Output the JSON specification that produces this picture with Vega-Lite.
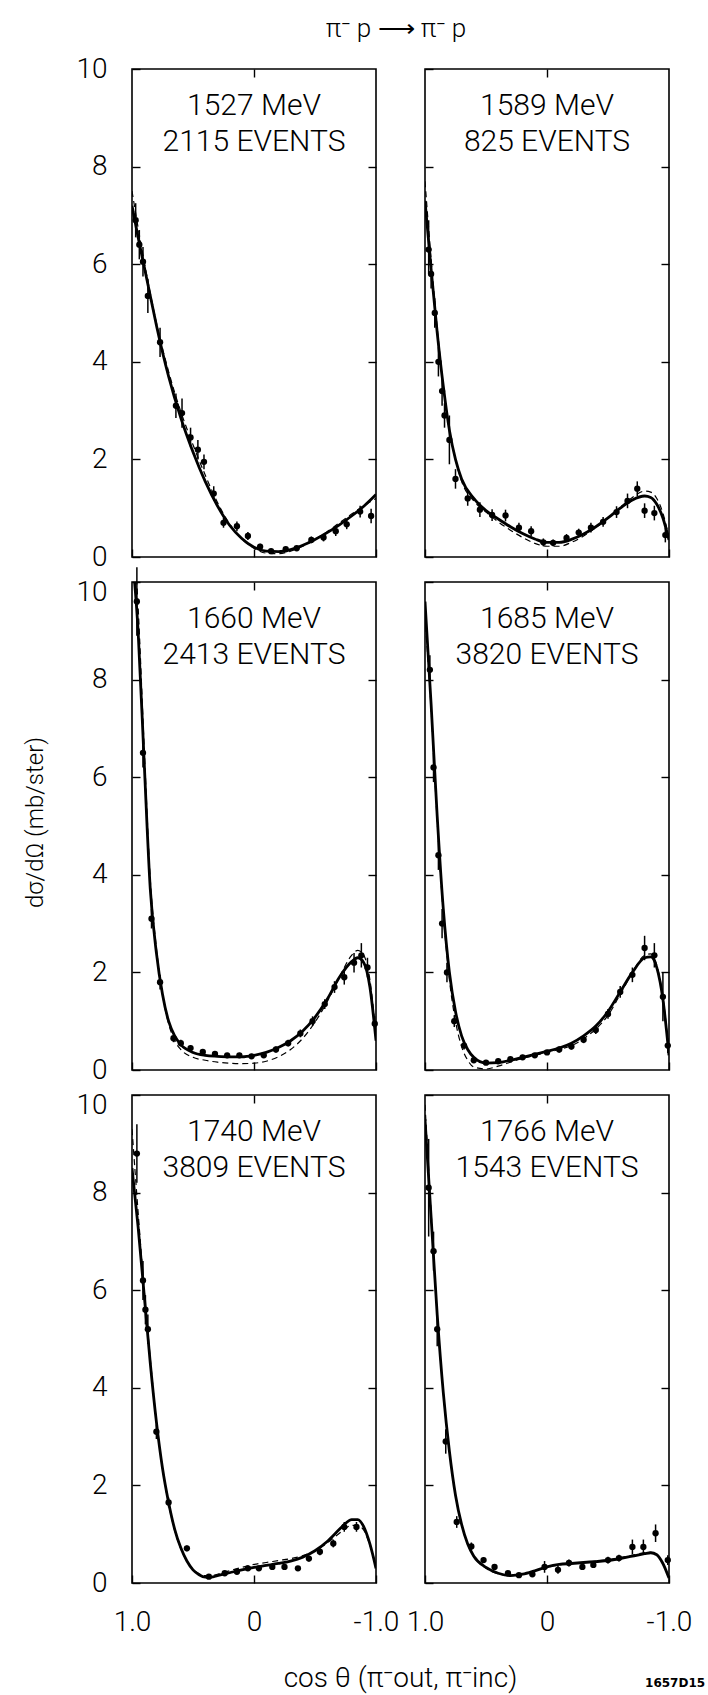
{
"$schema": "https://vega.github.io/schema/vega-lite/v6.json",
"background": "white",
"padding": {"left": 22, "top": 16, "right": 10, "bottom": 5},
"title": {"text": "π⁻ p ⟶ π⁻ p", "fontSize": 26, "fontWeight": 300, "font": "Roboto", "color": "black", "anchor": "middle", "frame": "group", "baseline": "alphabetic", "offset": -9, "dx": 264},
"config": {
  "view": {"stroke": "black", "strokeWidth": 1.6},
  "font": "Roboto",
  "axis": {"domain": false, "grid": false, "ticks": true, "tickSize": -8, "tickColor": "black", "tickWidth": 1.4, "labelFont": "Roboto", "labelFontSize": 28, "labelFontWeight": 300, "labelColor": "black", "labelPadding": 33, "labelFlush": false, "labelOverlap": false, "titleColor": "black", "titleFont": "Roboto", "titleFontWeight": 300}
},
"datasets": {"d": [
{"panel":"p1","kind":"label","text":["1527 MeV","2115 EVENTS"]},
{"panel":"p2","kind":"label","text":["1589 MeV","825 EVENTS"]},
{"panel":"p3","kind":"label","text":["1660 MeV","2413 EVENTS"]},
{"panel":"p4","kind":"label","text":["1685 MeV","3820 EVENTS"]},
{"panel":"p5","kind":"label","text":["1740 MeV","3809 EVENTS"]},
{"panel":"p6","kind":"label","text":["1766 MeV","1543 EVENTS"]},
{"panel":"p6","kind":"code","text":"1657D15"},

{"panel":"p1","kind":"pt","cos":0.97,"val":6.9,"lo":6.55,"hi":7.25},
{"panel":"p1","kind":"pt","cos":0.94,"val":6.4,"lo":6.1,"hi":6.7},
{"panel":"p1","kind":"pt","cos":0.91,"val":6.05,"lo":5.75,"hi":6.35},
{"panel":"p1","kind":"pt","cos":0.87,"val":5.35,"lo":5.0,"hi":5.7},
{"panel":"p1","kind":"pt","cos":0.77,"val":4.4,"lo":4.1,"hi":4.7},
{"panel":"p1","kind":"pt","cos":0.64,"val":3.1,"lo":2.85,"hi":3.35},
{"panel":"p1","kind":"pt","cos":0.59,"val":2.95,"lo":2.65,"hi":3.25},
{"panel":"p1","kind":"pt","cos":0.52,"val":2.45,"lo":2.25,"hi":2.65},
{"panel":"p1","kind":"pt","cos":0.46,"val":2.2,"lo":2.0,"hi":2.4},
{"panel":"p1","kind":"pt","cos":0.41,"val":1.95,"lo":1.8,"hi":2.1},
{"panel":"p1","kind":"pt","cos":0.33,"val":1.3,"lo":1.15,"hi":1.45},
{"panel":"p1","kind":"pt","cos":0.25,"val":0.7,"lo":0.6,"hi":0.8},
{"panel":"p1","kind":"pt","cos":0.14,"val":0.63,"lo":0.53,"hi":0.73},
{"panel":"p1","kind":"pt","cos":0.05,"val":0.43,"lo":0.35,"hi":0.51},
{"panel":"p1","kind":"pt","cos":-0.05,"val":0.21,"lo":0.15,"hi":0.27},
{"panel":"p1","kind":"pt","cos":-0.14,"val":0.12,"lo":0.07,"hi":0.17},
{"panel":"p1","kind":"pt","cos":-0.26,"val":0.16,"lo":0.11,"hi":0.21},
{"panel":"p1","kind":"pt","cos":-0.35,"val":0.18,"lo":0.13,"hi":0.23},
{"panel":"p1","kind":"pt","cos":-0.47,"val":0.35,"lo":0.28,"hi":0.42},
{"panel":"p1","kind":"pt","cos":-0.57,"val":0.4,"lo":0.32,"hi":0.48},
{"panel":"p1","kind":"pt","cos":-0.67,"val":0.53,"lo":0.43,"hi":0.63},
{"panel":"p1","kind":"pt","cos":-0.76,"val":0.67,"lo":0.57,"hi":0.77},
{"panel":"p1","kind":"pt","cos":-0.87,"val":0.93,"lo":0.81,"hi":1.05},
{"panel":"p1","kind":"pt","cos":-0.96,"val":0.84,"lo":0.69,"hi":0.99},
{"panel":"p1","kind":"solid","cos":1,"val":7.2},{"panel":"p1","kind":"solid","cos":0.95,"val":6.55},{"panel":"p1","kind":"solid","cos":0.9,"val":5.95},{"panel":"p1","kind":"solid","cos":0.85,"val":5.35},{"panel":"p1","kind":"solid","cos":0.8,"val":4.75},{"panel":"p1","kind":"solid","cos":0.7,"val":3.7},{"panel":"p1","kind":"solid","cos":0.6,"val":2.85},{"panel":"p1","kind":"solid","cos":0.5,"val":2.15},{"panel":"p1","kind":"solid","cos":0.4,"val":1.55},{"panel":"p1","kind":"solid","cos":0.3,"val":1.05},{"panel":"p1","kind":"solid","cos":0.2,"val":0.65},{"panel":"p1","kind":"solid","cos":0.1,"val":0.38},{"panel":"p1","kind":"solid","cos":0,"val":0.2},{"panel":"p1","kind":"solid","cos":-0.1,"val":0.12},{"panel":"p1","kind":"solid","cos":-0.2,"val":0.11},{"panel":"p1","kind":"solid","cos":-0.3,"val":0.15},{"panel":"p1","kind":"solid","cos":-0.4,"val":0.24},{"panel":"p1","kind":"solid","cos":-0.5,"val":0.36},{"panel":"p1","kind":"solid","cos":-0.6,"val":0.5},{"panel":"p1","kind":"solid","cos":-0.7,"val":0.66},{"panel":"p1","kind":"solid","cos":-0.8,"val":0.84},{"panel":"p1","kind":"solid","cos":-0.9,"val":1.04},{"panel":"p1","kind":"solid","cos":-1,"val":1.28},
{"panel":"p1","kind":"dashed","cos":1,"val":7.5},{"panel":"p1","kind":"dashed","cos":0.95,"val":6.75},{"panel":"p1","kind":"dashed","cos":0.9,"val":6.05},{"panel":"p1","kind":"dashed","cos":0.85,"val":5.4},{"panel":"p1","kind":"dashed","cos":0.8,"val":4.8},{"panel":"p1","kind":"dashed","cos":0.7,"val":3.8},{"panel":"p1","kind":"dashed","cos":0.6,"val":2.98},{"panel":"p1","kind":"dashed","cos":0.5,"val":2.3},{"panel":"p1","kind":"dashed","cos":0.4,"val":1.68},{"panel":"p1","kind":"dashed","cos":0.3,"val":1.12},{"panel":"p1","kind":"dashed","cos":0.2,"val":0.68},{"panel":"p1","kind":"dashed","cos":0.1,"val":0.37},{"panel":"p1","kind":"dashed","cos":0,"val":0.18},{"panel":"p1","kind":"dashed","cos":-0.1,"val":0.08},{"panel":"p1","kind":"dashed","cos":-0.2,"val":0.07},{"panel":"p1","kind":"dashed","cos":-0.3,"val":0.12},{"panel":"p1","kind":"dashed","cos":-0.4,"val":0.22},{"panel":"p1","kind":"dashed","cos":-0.5,"val":0.36},{"panel":"p1","kind":"dashed","cos":-0.6,"val":0.52},{"panel":"p1","kind":"dashed","cos":-0.7,"val":0.7},{"panel":"p1","kind":"dashed","cos":-0.8,"val":0.88},{"panel":"p1","kind":"dashed","cos":-0.9,"val":1.05},{"panel":"p1","kind":"dashed","cos":-1,"val":1.2},

{"panel":"p2","kind":"pt","cos":0.97,"val":6.3,"lo":5.8,"hi":6.9},
{"panel":"p2","kind":"pt","cos":0.95,"val":5.8,"lo":5.5,"hi":6.1},
{"panel":"p2","kind":"pt","cos":0.92,"val":5.0,"lo":4.7,"hi":5.3},
{"panel":"p2","kind":"pt","cos":0.89,"val":4.0,"lo":3.7,"hi":4.3},
{"panel":"p2","kind":"pt","cos":0.86,"val":3.4,"lo":3.1,"hi":3.7},
{"panel":"p2","kind":"pt","cos":0.84,"val":2.9,"lo":2.65,"hi":3.15},
{"panel":"p2","kind":"pt","cos":0.8,"val":2.4,"lo":1.9,"hi":2.9},
{"panel":"p2","kind":"pt","cos":0.75,"val":1.6,"lo":1.4,"hi":1.8},
{"panel":"p2","kind":"pt","cos":0.65,"val":1.2,"lo":1.05,"hi":1.35},
{"panel":"p2","kind":"pt","cos":0.55,"val":0.97,"lo":0.82,"hi":1.12},
{"panel":"p2","kind":"pt","cos":0.45,"val":0.86,"lo":0.74,"hi":0.98},
{"panel":"p2","kind":"pt","cos":0.34,"val":0.85,"lo":0.73,"hi":0.97},
{"panel":"p2","kind":"pt","cos":0.23,"val":0.6,"lo":0.5,"hi":0.7},
{"panel":"p2","kind":"pt","cos":0.13,"val":0.53,"lo":0.43,"hi":0.63},
{"panel":"p2","kind":"pt","cos":0.03,"val":0.3,"lo":0.22,"hi":0.38},
{"panel":"p2","kind":"pt","cos":-0.05,"val":0.29,"lo":0.22,"hi":0.36},
{"panel":"p2","kind":"pt","cos":-0.16,"val":0.39,"lo":0.31,"hi":0.47},
{"panel":"p2","kind":"pt","cos":-0.26,"val":0.5,"lo":0.42,"hi":0.58},
{"panel":"p2","kind":"pt","cos":-0.36,"val":0.6,"lo":0.5,"hi":0.7},
{"panel":"p2","kind":"pt","cos":-0.46,"val":0.72,"lo":0.62,"hi":0.82},
{"panel":"p2","kind":"pt","cos":-0.57,"val":0.92,"lo":0.8,"hi":1.04},
{"panel":"p2","kind":"pt","cos":-0.66,"val":1.15,"lo":1.0,"hi":1.3},
{"panel":"p2","kind":"pt","cos":-0.74,"val":1.4,"lo":1.25,"hi":1.55},
{"panel":"p2","kind":"pt","cos":-0.8,"val":0.95,"lo":0.8,"hi":1.1},
{"panel":"p2","kind":"pt","cos":-0.88,"val":0.9,"lo":0.75,"hi":1.05},
{"panel":"p2","kind":"pt","cos":-0.97,"val":0.45,"lo":0.3,"hi":0.6},
{"panel":"p2","kind":"solid","cos":1,"val":7.3},{"panel":"p2","kind":"solid","cos":0.95,"val":5.9},{"panel":"p2","kind":"solid","cos":0.9,"val":4.6},{"panel":"p2","kind":"solid","cos":0.85,"val":3.5},{"panel":"p2","kind":"solid","cos":0.8,"val":2.6},{"panel":"p2","kind":"solid","cos":0.75,"val":2.0},{"panel":"p2","kind":"solid","cos":0.7,"val":1.6},{"panel":"p2","kind":"solid","cos":0.6,"val":1.2},{"panel":"p2","kind":"solid","cos":0.5,"val":0.95},{"panel":"p2","kind":"solid","cos":0.4,"val":0.78},{"panel":"p2","kind":"solid","cos":0.3,"val":0.62},{"panel":"p2","kind":"solid","cos":0.2,"val":0.48},{"panel":"p2","kind":"solid","cos":0.1,"val":0.37},{"panel":"p2","kind":"solid","cos":0,"val":0.3},{"panel":"p2","kind":"solid","cos":-0.1,"val":0.3},{"panel":"p2","kind":"solid","cos":-0.2,"val":0.36},{"panel":"p2","kind":"solid","cos":-0.3,"val":0.47},{"panel":"p2","kind":"solid","cos":-0.4,"val":0.62},{"panel":"p2","kind":"solid","cos":-0.5,"val":0.8},{"panel":"p2","kind":"solid","cos":-0.6,"val":1.0},{"panel":"p2","kind":"solid","cos":-0.7,"val":1.17},{"panel":"p2","kind":"solid","cos":-0.8,"val":1.25},{"panel":"p2","kind":"solid","cos":-0.85,"val":1.22},{"panel":"p2","kind":"solid","cos":-0.9,"val":1.08},{"panel":"p2","kind":"solid","cos":-0.95,"val":0.8},{"panel":"p2","kind":"solid","cos":-1,"val":0.35},
{"panel":"p2","kind":"dashed","cos":1,"val":7.7},{"panel":"p2","kind":"dashed","cos":0.95,"val":6.1},{"panel":"p2","kind":"dashed","cos":0.9,"val":4.7},{"panel":"p2","kind":"dashed","cos":0.85,"val":3.5},{"panel":"p2","kind":"dashed","cos":0.8,"val":2.6},{"panel":"p2","kind":"dashed","cos":0.75,"val":2.0},{"panel":"p2","kind":"dashed","cos":0.7,"val":1.55},{"panel":"p2","kind":"dashed","cos":0.6,"val":1.15},{"panel":"p2","kind":"dashed","cos":0.5,"val":0.92},{"panel":"p2","kind":"dashed","cos":0.4,"val":0.72},{"panel":"p2","kind":"dashed","cos":0.3,"val":0.55},{"panel":"p2","kind":"dashed","cos":0.2,"val":0.4},{"panel":"p2","kind":"dashed","cos":0.1,"val":0.28},{"panel":"p2","kind":"dashed","cos":0,"val":0.22},{"panel":"p2","kind":"dashed","cos":-0.1,"val":0.22},{"panel":"p2","kind":"dashed","cos":-0.2,"val":0.3},{"panel":"p2","kind":"dashed","cos":-0.3,"val":0.43},{"panel":"p2","kind":"dashed","cos":-0.4,"val":0.6},{"panel":"p2","kind":"dashed","cos":-0.5,"val":0.8},{"panel":"p2","kind":"dashed","cos":-0.6,"val":1.02},{"panel":"p2","kind":"dashed","cos":-0.7,"val":1.22},{"panel":"p2","kind":"dashed","cos":-0.8,"val":1.35},{"panel":"p2","kind":"dashed","cos":-0.85,"val":1.33},{"panel":"p2","kind":"dashed","cos":-0.9,"val":1.2},{"panel":"p2","kind":"dashed","cos":-0.95,"val":0.9},{"panel":"p2","kind":"dashed","cos":-1,"val":0.4},

{"panel":"p3","kind":"pt","cos":0.96,"val":9.6,"lo":8.9,"hi":10.3},
{"panel":"p3","kind":"pt","cos":0.91,"val":6.5,"lo":6.2,"hi":6.8},
{"panel":"p3","kind":"pt","cos":0.84,"val":3.1,"lo":2.9,"hi":3.3},
{"panel":"p3","kind":"pt","cos":0.77,"val":1.8,"lo":1.65,"hi":1.95},
{"panel":"p3","kind":"pt","cos":0.66,"val":0.65,"lo":0.57,"hi":0.73},
{"panel":"p3","kind":"pt","cos":0.6,"val":0.55,"lo":0.48,"hi":0.62},
{"panel":"p3","kind":"pt","cos":0.52,"val":0.45,"lo":0.39,"hi":0.51},
{"panel":"p3","kind":"pt","cos":0.42,"val":0.37,"lo":0.32,"hi":0.42},
{"panel":"p3","kind":"pt","cos":0.32,"val":0.33,"lo":0.28,"hi":0.38},
{"panel":"p3","kind":"pt","cos":0.22,"val":0.3,"lo":0.25,"hi":0.35},
{"panel":"p3","kind":"pt","cos":0.12,"val":0.3,"lo":0.25,"hi":0.35},
{"panel":"p3","kind":"pt","cos":0.02,"val":0.28,"lo":0.23,"hi":0.33},
{"panel":"p3","kind":"pt","cos":-0.08,"val":0.3,"lo":0.25,"hi":0.35},
{"panel":"p3","kind":"pt","cos":-0.18,"val":0.42,"lo":0.36,"hi":0.48},
{"panel":"p3","kind":"pt","cos":-0.28,"val":0.55,"lo":0.48,"hi":0.62},
{"panel":"p3","kind":"pt","cos":-0.38,"val":0.75,"lo":0.67,"hi":0.83},
{"panel":"p3","kind":"pt","cos":-0.48,"val":1.0,"lo":0.9,"hi":1.1},
{"panel":"p3","kind":"pt","cos":-0.58,"val":1.35,"lo":1.25,"hi":1.45},
{"panel":"p3","kind":"pt","cos":-0.66,"val":1.7,"lo":1.58,"hi":1.82},
{"panel":"p3","kind":"pt","cos":-0.74,"val":1.9,"lo":1.75,"hi":2.05},
{"panel":"p3","kind":"pt","cos":-0.82,"val":2.2,"lo":2.0,"hi":2.4},
{"panel":"p3","kind":"pt","cos":-0.88,"val":2.35,"lo":2.1,"hi":2.6},
{"panel":"p3","kind":"pt","cos":-0.93,"val":2.1,"lo":1.9,"hi":2.3},
{"panel":"p3","kind":"pt","cos":-0.99,"val":0.95,"lo":0.8,"hi":1.1},
{"panel":"p3","kind":"solid","cos":1,"val":10.6},{"panel":"p3","kind":"solid","cos":0.95,"val":9.0},{"panel":"p3","kind":"solid","cos":0.9,"val":6.3},{"panel":"p3","kind":"solid","cos":0.85,"val":3.7},{"panel":"p3","kind":"solid","cos":0.8,"val":2.4},{"panel":"p3","kind":"solid","cos":0.75,"val":1.55},{"panel":"p3","kind":"solid","cos":0.7,"val":1.0},{"panel":"p3","kind":"solid","cos":0.65,"val":0.7},{"panel":"p3","kind":"solid","cos":0.6,"val":0.52},{"panel":"p3","kind":"solid","cos":0.5,"val":0.36},{"panel":"p3","kind":"solid","cos":0.4,"val":0.3},{"panel":"p3","kind":"solid","cos":0.3,"val":0.28},{"panel":"p3","kind":"solid","cos":0.2,"val":0.27},{"panel":"p3","kind":"solid","cos":0.1,"val":0.27},{"panel":"p3","kind":"solid","cos":0,"val":0.3},{"panel":"p3","kind":"solid","cos":-0.1,"val":0.36},{"panel":"p3","kind":"solid","cos":-0.2,"val":0.46},{"panel":"p3","kind":"solid","cos":-0.3,"val":0.6},{"panel":"p3","kind":"solid","cos":-0.4,"val":0.8},{"panel":"p3","kind":"solid","cos":-0.5,"val":1.08},{"panel":"p3","kind":"solid","cos":-0.6,"val":1.45},{"panel":"p3","kind":"solid","cos":-0.7,"val":1.9},{"panel":"p3","kind":"solid","cos":-0.8,"val":2.22},{"panel":"p3","kind":"solid","cos":-0.85,"val":2.3},{"panel":"p3","kind":"solid","cos":-0.9,"val":2.2},{"panel":"p3","kind":"solid","cos":-0.95,"val":1.7},{"panel":"p3","kind":"solid","cos":-1,"val":0.6},
{"panel":"p3","kind":"dashed","cos":1,"val":11.5},{"panel":"p3","kind":"dashed","cos":0.95,"val":9.5},{"panel":"p3","kind":"dashed","cos":0.9,"val":6.6},{"panel":"p3","kind":"dashed","cos":0.85,"val":3.9},{"panel":"p3","kind":"dashed","cos":0.8,"val":2.5},{"panel":"p3","kind":"dashed","cos":0.75,"val":1.55},{"panel":"p3","kind":"dashed","cos":0.7,"val":0.95},{"panel":"p3","kind":"dashed","cos":0.65,"val":0.6},{"panel":"p3","kind":"dashed","cos":0.6,"val":0.42},{"panel":"p3","kind":"dashed","cos":0.5,"val":0.26},{"panel":"p3","kind":"dashed","cos":0.4,"val":0.2},{"panel":"p3","kind":"dashed","cos":0.3,"val":0.16},{"panel":"p3","kind":"dashed","cos":0.2,"val":0.14},{"panel":"p3","kind":"dashed","cos":0.1,"val":0.13},{"panel":"p3","kind":"dashed","cos":0,"val":0.14},{"panel":"p3","kind":"dashed","cos":-0.1,"val":0.18},{"panel":"p3","kind":"dashed","cos":-0.2,"val":0.27},{"panel":"p3","kind":"dashed","cos":-0.3,"val":0.42},{"panel":"p3","kind":"dashed","cos":-0.4,"val":0.65},{"panel":"p3","kind":"dashed","cos":-0.5,"val":0.98},{"panel":"p3","kind":"dashed","cos":-0.6,"val":1.4},{"panel":"p3","kind":"dashed","cos":-0.7,"val":1.9},{"panel":"p3","kind":"dashed","cos":-0.8,"val":2.35},{"panel":"p3","kind":"dashed","cos":-0.85,"val":2.45},{"panel":"p3","kind":"dashed","cos":-0.9,"val":2.35},{"panel":"p3","kind":"dashed","cos":-0.95,"val":1.85},{"panel":"p3","kind":"dashed","cos":-1,"val":0.7},

{"panel":"p4","kind":"pt","cos":0.96,"val":8.2,"lo":7.9,"hi":8.5},
{"panel":"p4","kind":"pt","cos":0.93,"val":6.2,"lo":5.9,"hi":6.5},
{"panel":"p4","kind":"pt","cos":0.89,"val":4.4,"lo":4.1,"hi":4.7},
{"panel":"p4","kind":"pt","cos":0.86,"val":3.0,"lo":2.7,"hi":3.3},
{"panel":"p4","kind":"pt","cos":0.82,"val":2.0,"lo":1.8,"hi":2.2},
{"panel":"p4","kind":"pt","cos":0.76,"val":1.0,"lo":0.88,"hi":1.12},
{"panel":"p4","kind":"pt","cos":0.68,"val":0.5,"lo":0.42,"hi":0.58},
{"panel":"p4","kind":"pt","cos":0.6,"val":0.2,"lo":0.15,"hi":0.25},
{"panel":"p4","kind":"pt","cos":0.5,"val":0.15,"lo":0.1,"hi":0.2},
{"panel":"p4","kind":"pt","cos":0.4,"val":0.18,"lo":0.13,"hi":0.23},
{"panel":"p4","kind":"pt","cos":0.3,"val":0.22,"lo":0.17,"hi":0.27},
{"panel":"p4","kind":"pt","cos":0.2,"val":0.26,"lo":0.21,"hi":0.31},
{"panel":"p4","kind":"pt","cos":0.1,"val":0.3,"lo":0.25,"hi":0.35},
{"panel":"p4","kind":"pt","cos":0.0,"val":0.36,"lo":0.31,"hi":0.41},
{"panel":"p4","kind":"pt","cos":-0.1,"val":0.42,"lo":0.36,"hi":0.48},
{"panel":"p4","kind":"pt","cos":-0.2,"val":0.48,"lo":0.42,"hi":0.54},
{"panel":"p4","kind":"pt","cos":-0.3,"val":0.62,"lo":0.55,"hi":0.69},
{"panel":"p4","kind":"pt","cos":-0.4,"val":0.82,"lo":0.74,"hi":0.9},
{"panel":"p4","kind":"pt","cos":-0.5,"val":1.15,"lo":1.05,"hi":1.25},
{"panel":"p4","kind":"pt","cos":-0.6,"val":1.6,"lo":1.48,"hi":1.72},
{"panel":"p4","kind":"pt","cos":-0.7,"val":1.95,"lo":1.8,"hi":2.1},
{"panel":"p4","kind":"pt","cos":-0.8,"val":2.5,"lo":2.25,"hi":2.75},
{"panel":"p4","kind":"pt","cos":-0.88,"val":2.35,"lo":2.1,"hi":2.6},
{"panel":"p4","kind":"pt","cos":-0.95,"val":1.5,"lo":1.0,"hi":2.0},
{"panel":"p4","kind":"pt","cos":-0.99,"val":0.5,"lo":0.35,"hi":0.65},
{"panel":"p4","kind":"solid","cos":1,"val":9.6},{"panel":"p4","kind":"solid","cos":0.95,"val":7.5},{"panel":"p4","kind":"solid","cos":0.9,"val":5.2},{"panel":"p4","kind":"solid","cos":0.85,"val":3.3},{"panel":"p4","kind":"solid","cos":0.8,"val":2.0},{"panel":"p4","kind":"solid","cos":0.75,"val":1.2},{"panel":"p4","kind":"solid","cos":0.7,"val":0.7},{"panel":"p4","kind":"solid","cos":0.65,"val":0.42},{"panel":"p4","kind":"solid","cos":0.6,"val":0.26},{"panel":"p4","kind":"solid","cos":0.5,"val":0.14},{"panel":"p4","kind":"solid","cos":0.4,"val":0.15},{"panel":"p4","kind":"solid","cos":0.3,"val":0.2},{"panel":"p4","kind":"solid","cos":0.2,"val":0.26},{"panel":"p4","kind":"solid","cos":0.1,"val":0.32},{"panel":"p4","kind":"solid","cos":0,"val":0.38},{"panel":"p4","kind":"solid","cos":-0.1,"val":0.45},{"panel":"p4","kind":"solid","cos":-0.2,"val":0.55},{"panel":"p4","kind":"solid","cos":-0.3,"val":0.7},{"panel":"p4","kind":"solid","cos":-0.4,"val":0.9},{"panel":"p4","kind":"solid","cos":-0.5,"val":1.2},{"panel":"p4","kind":"solid","cos":-0.6,"val":1.6},{"panel":"p4","kind":"solid","cos":-0.7,"val":2.0},{"panel":"p4","kind":"solid","cos":-0.8,"val":2.3},{"panel":"p4","kind":"solid","cos":-0.85,"val":2.32},{"panel":"p4","kind":"solid","cos":-0.9,"val":2.1},{"panel":"p4","kind":"solid","cos":-0.95,"val":1.45},{"panel":"p4","kind":"solid","cos":-1,"val":0.3},
{"panel":"p4","kind":"dashed","cos":1,"val":9.3},{"panel":"p4","kind":"dashed","cos":0.95,"val":7.4},{"panel":"p4","kind":"dashed","cos":0.9,"val":5.1},{"panel":"p4","kind":"dashed","cos":0.85,"val":3.2},{"panel":"p4","kind":"dashed","cos":0.8,"val":1.85},{"panel":"p4","kind":"dashed","cos":0.75,"val":1.0},{"panel":"p4","kind":"dashed","cos":0.7,"val":0.48},{"panel":"p4","kind":"dashed","cos":0.65,"val":0.2},{"panel":"p4","kind":"dashed","cos":0.6,"val":0.06},{"panel":"p4","kind":"dashed","cos":0.5,"val":0.02},{"panel":"p4","kind":"dashed","cos":0.4,"val":0.08},{"panel":"p4","kind":"dashed","cos":0.3,"val":0.16},{"panel":"p4","kind":"dashed","cos":0.2,"val":0.24},{"panel":"p4","kind":"dashed","cos":0.1,"val":0.3},{"panel":"p4","kind":"dashed","cos":0,"val":0.36},{"panel":"p4","kind":"dashed","cos":-0.1,"val":0.42},{"panel":"p4","kind":"dashed","cos":-0.2,"val":0.5},{"panel":"p4","kind":"dashed","cos":-0.3,"val":0.64},{"panel":"p4","kind":"dashed","cos":-0.4,"val":0.84},{"panel":"p4","kind":"dashed","cos":-0.5,"val":1.12},{"panel":"p4","kind":"dashed","cos":-0.6,"val":1.55},{"panel":"p4","kind":"dashed","cos":-0.7,"val":2.0},{"panel":"p4","kind":"dashed","cos":-0.8,"val":2.35},{"panel":"p4","kind":"dashed","cos":-0.85,"val":2.38},{"panel":"p4","kind":"dashed","cos":-0.9,"val":2.15},{"panel":"p4","kind":"dashed","cos":-0.95,"val":1.5},{"panel":"p4","kind":"dashed","cos":-1,"val":0.35},

{"panel":"p5","kind":"pt","cos":0.96,"val":8.8,"lo":8.2,"hi":9.4},
{"panel":"p5","kind":"pt","cos":0.91,"val":6.2,"lo":5.8,"hi":6.6},
{"panel":"p5","kind":"pt","cos":0.89,"val":5.6,"lo":5.3,"hi":5.9},
{"panel":"p5","kind":"pt","cos":0.87,"val":5.2,"lo":4.9,"hi":5.5},
{"panel":"p5","kind":"pt","cos":0.8,"val":3.1,"lo":2.95,"hi":3.25},
{"panel":"p5","kind":"pt","cos":0.7,"val":1.65,"lo":1.55,"hi":1.75},
{"panel":"p5","kind":"pt","cos":0.55,"val":0.71,"lo":0.65,"hi":0.77},
{"panel":"p5","kind":"pt","cos":0.37,"val":0.13,"lo":0.09,"hi":0.17},
{"panel":"p5","kind":"pt","cos":0.24,"val":0.2,"lo":0.16,"hi":0.24},
{"panel":"p5","kind":"pt","cos":0.14,"val":0.23,"lo":0.19,"hi":0.27},
{"panel":"p5","kind":"pt","cos":0.05,"val":0.3,"lo":0.25,"hi":0.35},
{"panel":"p5","kind":"pt","cos":-0.04,"val":0.3,"lo":0.25,"hi":0.35},
{"panel":"p5","kind":"pt","cos":-0.15,"val":0.33,"lo":0.28,"hi":0.38},
{"panel":"p5","kind":"pt","cos":-0.25,"val":0.33,"lo":0.28,"hi":0.38},
{"panel":"p5","kind":"pt","cos":-0.36,"val":0.3,"lo":0.25,"hi":0.35},
{"panel":"p5","kind":"pt","cos":-0.45,"val":0.5,"lo":0.44,"hi":0.56},
{"panel":"p5","kind":"pt","cos":-0.54,"val":0.64,"lo":0.57,"hi":0.71},
{"panel":"p5","kind":"pt","cos":-0.65,"val":0.81,"lo":0.73,"hi":0.89},
{"panel":"p5","kind":"pt","cos":-0.74,"val":1.15,"lo":1.05,"hi":1.25},
{"panel":"p5","kind":"pt","cos":-0.84,"val":1.15,"lo":1.05,"hi":1.25},
{"panel":"p5","kind":"solid","cos":1,"val":8.5},{"panel":"p5","kind":"solid","cos":0.95,"val":7.3},{"panel":"p5","kind":"solid","cos":0.9,"val":5.9},{"panel":"p5","kind":"solid","cos":0.85,"val":4.5},{"panel":"p5","kind":"solid","cos":0.8,"val":3.3},{"panel":"p5","kind":"solid","cos":0.75,"val":2.35},{"panel":"p5","kind":"solid","cos":0.7,"val":1.65},{"panel":"p5","kind":"solid","cos":0.65,"val":1.1},{"panel":"p5","kind":"solid","cos":0.6,"val":0.72},{"panel":"p5","kind":"solid","cos":0.55,"val":0.45},{"panel":"p5","kind":"solid","cos":0.5,"val":0.27},{"panel":"p5","kind":"solid","cos":0.45,"val":0.17},{"panel":"p5","kind":"solid","cos":0.4,"val":0.12},{"panel":"p5","kind":"solid","cos":0.35,"val":0.12},{"panel":"p5","kind":"solid","cos":0.3,"val":0.15},{"panel":"p5","kind":"solid","cos":0.2,"val":0.21},{"panel":"p5","kind":"solid","cos":0.1,"val":0.27},{"panel":"p5","kind":"solid","cos":0,"val":0.32},{"panel":"p5","kind":"solid","cos":-0.1,"val":0.36},{"panel":"p5","kind":"solid","cos":-0.2,"val":0.4},{"panel":"p5","kind":"solid","cos":-0.3,"val":0.45},{"panel":"p5","kind":"solid","cos":-0.4,"val":0.53},{"panel":"p5","kind":"solid","cos":-0.5,"val":0.66},{"panel":"p5","kind":"solid","cos":-0.6,"val":0.85},{"panel":"p5","kind":"solid","cos":-0.7,"val":1.1},{"panel":"p5","kind":"solid","cos":-0.75,"val":1.22},{"panel":"p5","kind":"solid","cos":-0.8,"val":1.3},{"panel":"p5","kind":"solid","cos":-0.85,"val":1.3},{"panel":"p5","kind":"solid","cos":-0.9,"val":1.15},{"panel":"p5","kind":"solid","cos":-0.95,"val":0.8},{"panel":"p5","kind":"solid","cos":-1,"val":0.3},
{"panel":"p5","kind":"dashed","cos":1,"val":9.3},{"panel":"p5","kind":"dashed","cos":0.95,"val":7.6},{"panel":"p5","kind":"dashed","cos":0.9,"val":6.0},{"panel":"p5","kind":"dashed","cos":0.85,"val":4.6},{"panel":"p5","kind":"dashed","cos":0.8,"val":3.3},{"panel":"p5","kind":"dashed","cos":0.75,"val":2.35},{"panel":"p5","kind":"dashed","cos":0.7,"val":1.62},{"panel":"p5","kind":"dashed","cos":0.65,"val":1.08},{"panel":"p5","kind":"dashed","cos":0.6,"val":0.7},{"panel":"p5","kind":"dashed","cos":0.55,"val":0.45},{"panel":"p5","kind":"dashed","cos":0.5,"val":0.28},{"panel":"p5","kind":"dashed","cos":0.45,"val":0.19},{"panel":"p5","kind":"dashed","cos":0.4,"val":0.15},{"panel":"p5","kind":"dashed","cos":0.35,"val":0.15},{"panel":"p5","kind":"dashed","cos":0.3,"val":0.18},{"panel":"p5","kind":"dashed","cos":0.2,"val":0.25},{"panel":"p5","kind":"dashed","cos":0.1,"val":0.32},{"panel":"p5","kind":"dashed","cos":0,"val":0.38},{"panel":"p5","kind":"dashed","cos":-0.1,"val":0.42},{"panel":"p5","kind":"dashed","cos":-0.2,"val":0.46},{"panel":"p5","kind":"dashed","cos":-0.3,"val":0.5},{"panel":"p5","kind":"dashed","cos":-0.4,"val":0.56},{"panel":"p5","kind":"dashed","cos":-0.5,"val":0.66},{"panel":"p5","kind":"dashed","cos":-0.6,"val":0.82},{"panel":"p5","kind":"dashed","cos":-0.7,"val":1.02},{"panel":"p5","kind":"dashed","cos":-0.75,"val":1.12},{"panel":"p5","kind":"dashed","cos":-0.8,"val":1.18},{"panel":"p5","kind":"dashed","cos":-0.85,"val":1.18},{"panel":"p5","kind":"dashed","cos":-0.9,"val":1.08},{"panel":"p5","kind":"dashed","cos":-0.95,"val":0.78},{"panel":"p5","kind":"dashed","cos":-1,"val":0.35},

{"panel":"p6","kind":"pt","cos":0.97,"val":8.1,"lo":7.1,"hi":9.1},
{"panel":"p6","kind":"pt","cos":0.93,"val":6.8,"lo":6.4,"hi":7.2},
{"panel":"p6","kind":"pt","cos":0.9,"val":5.2,"lo":4.85,"hi":5.55},
{"panel":"p6","kind":"pt","cos":0.83,"val":2.9,"lo":2.65,"hi":3.15},
{"panel":"p6","kind":"pt","cos":0.74,"val":1.25,"lo":1.13,"hi":1.37},
{"panel":"p6","kind":"pt","cos":0.62,"val":0.75,"lo":0.67,"hi":0.83},
{"panel":"p6","kind":"pt","cos":0.52,"val":0.47,"lo":0.41,"hi":0.53},
{"panel":"p6","kind":"pt","cos":0.43,"val":0.33,"lo":0.28,"hi":0.38},
{"panel":"p6","kind":"pt","cos":0.32,"val":0.2,"lo":0.16,"hi":0.24},
{"panel":"p6","kind":"pt","cos":0.23,"val":0.16,"lo":0.12,"hi":0.2},
{"panel":"p6","kind":"pt","cos":0.12,"val":0.18,"lo":0.14,"hi":0.22},
{"panel":"p6","kind":"pt","cos":0.02,"val":0.33,"lo":0.21,"hi":0.45},
{"panel":"p6","kind":"pt","cos":-0.09,"val":0.27,"lo":0.19,"hi":0.35},
{"panel":"p6","kind":"pt","cos":-0.18,"val":0.41,"lo":0.34,"hi":0.48},
{"panel":"p6","kind":"pt","cos":-0.29,"val":0.33,"lo":0.27,"hi":0.39},
{"panel":"p6","kind":"pt","cos":-0.38,"val":0.37,"lo":0.31,"hi":0.43},
{"panel":"p6","kind":"pt","cos":-0.5,"val":0.47,"lo":0.4,"hi":0.54},
{"panel":"p6","kind":"pt","cos":-0.59,"val":0.51,"lo":0.44,"hi":0.58},
{"panel":"p6","kind":"pt","cos":-0.7,"val":0.74,"lo":0.59,"hi":0.89},
{"panel":"p6","kind":"pt","cos":-0.79,"val":0.74,"lo":0.59,"hi":0.89},
{"panel":"p6","kind":"pt","cos":-0.89,"val":1.02,"lo":0.84,"hi":1.2},
{"panel":"p6","kind":"pt","cos":-0.99,"val":0.47,"lo":0.37,"hi":0.57},
{"panel":"p6","kind":"solid","cos":1,"val":9.5},{"panel":"p6","kind":"solid","cos":0.95,"val":7.5},{"panel":"p6","kind":"solid","cos":0.9,"val":5.5},{"panel":"p6","kind":"solid","cos":0.85,"val":3.9},{"panel":"p6","kind":"solid","cos":0.8,"val":2.7},{"panel":"p6","kind":"solid","cos":0.75,"val":1.8},{"panel":"p6","kind":"solid","cos":0.7,"val":1.2},{"panel":"p6","kind":"solid","cos":0.65,"val":0.8},{"panel":"p6","kind":"solid","cos":0.6,"val":0.55},{"panel":"p6","kind":"solid","cos":0.5,"val":0.32},{"panel":"p6","kind":"solid","cos":0.4,"val":0.2},{"panel":"p6","kind":"solid","cos":0.3,"val":0.15},{"panel":"p6","kind":"solid","cos":0.2,"val":0.18},{"panel":"p6","kind":"solid","cos":0.1,"val":0.25},{"panel":"p6","kind":"solid","cos":0,"val":0.33},{"panel":"p6","kind":"solid","cos":-0.1,"val":0.38},{"panel":"p6","kind":"solid","cos":-0.2,"val":0.4},{"panel":"p6","kind":"solid","cos":-0.3,"val":0.42},{"panel":"p6","kind":"solid","cos":-0.4,"val":0.44},{"panel":"p6","kind":"solid","cos":-0.5,"val":0.46},{"panel":"p6","kind":"solid","cos":-0.6,"val":0.5},{"panel":"p6","kind":"solid","cos":-0.7,"val":0.55},{"panel":"p6","kind":"solid","cos":-0.8,"val":0.6},{"panel":"p6","kind":"solid","cos":-0.85,"val":0.62},{"panel":"p6","kind":"solid","cos":-0.9,"val":0.58},{"panel":"p6","kind":"solid","cos":-0.95,"val":0.4},{"panel":"p6","kind":"solid","cos":-1,"val":0.1},
{"panel":"p6","kind":"dashed","cos":1,"val":9.8},{"panel":"p6","kind":"dashed","cos":0.95,"val":7.6},{"panel":"p6","kind":"dashed","cos":0.9,"val":5.5},{"panel":"p6","kind":"dashed","cos":0.85,"val":3.9},{"panel":"p6","kind":"dashed","cos":0.8,"val":2.7},{"panel":"p6","kind":"dashed","cos":0.75,"val":1.8},{"panel":"p6","kind":"dashed","cos":0.7,"val":1.2},{"panel":"p6","kind":"dashed","cos":0.65,"val":0.8},{"panel":"p6","kind":"dashed","cos":0.6,"val":0.55},{"panel":"p6","kind":"dashed","cos":0.5,"val":0.3},{"panel":"p6","kind":"dashed","cos":0.4,"val":0.19},{"panel":"p6","kind":"dashed","cos":0.3,"val":0.15},{"panel":"p6","kind":"dashed","cos":0.2,"val":0.18},{"panel":"p6","kind":"dashed","cos":0.1,"val":0.25},{"panel":"p6","kind":"dashed","cos":0,"val":0.32},{"panel":"p6","kind":"dashed","cos":-0.1,"val":0.37},{"panel":"p6","kind":"dashed","cos":-0.2,"val":0.4},{"panel":"p6","kind":"dashed","cos":-0.3,"val":0.42},{"panel":"p6","kind":"dashed","cos":-0.4,"val":0.45},{"panel":"p6","kind":"dashed","cos":-0.5,"val":0.48},{"panel":"p6","kind":"dashed","cos":-0.6,"val":0.52},{"panel":"p6","kind":"dashed","cos":-0.7,"val":0.57},{"panel":"p6","kind":"dashed","cos":-0.8,"val":0.62},{"panel":"p6","kind":"dashed","cos":-0.85,"val":0.63},{"panel":"p6","kind":"dashed","cos":-0.9,"val":0.58},{"panel":"p6","kind":"dashed","cos":-0.95,"val":0.4},{"panel":"p6","kind":"dashed","cos":-1,"val":0.1}
]},
"columns": 2,
"spacing": {"row": 25, "column": 49},
"bounds": "flush",
"concat": [
 {"width": 244, "height": 488, "data": {"name": "d"}, "transform": [{"filter": "datum.panel == 'p1'"}],
  "layer": [
   {"transform": [{"filter": "datum.kind == 'pt'"}], "mark": {"type": "rule", "strokeWidth": 1.5, "color": "black"},
    "encoding": {"x": {"field": "cos", "type": "quantitative", "scale": {"domain": [-1, 1], "reverse": true, "nice": false, "zero": false}, "axis": {"orient": "bottom", "values": [1, 0, -1], "labels": false, "title": null}},
     "y": {"field": "lo", "type": "quantitative", "scale": {"domain": [0, 10], "nice": false, "zero": false}, "axis": {"orient": "left", "values": [0, 2, 4, 6, 8, 10], "labels": true, "title": null}},
     "y2": {"field": "hi"}}},
   {"transform": [{"filter": "datum.kind == 'pt'"}], "mark": {"type": "circle", "size": 40, "color": "black", "opacity": 1},
    "encoding": {"x": {"field": "cos", "type": "quantitative", "axis": null}, "y": {"field": "val", "type": "quantitative", "axis": null}}},
   {"transform": [{"filter": "datum.kind == 'solid'"}], "mark": {"type": "line", "strokeWidth": 2.8, "color": "black", "clip": true, "interpolate": "monotone"},
    "encoding": {"x": {"field": "cos", "type": "quantitative", "axis": {"orient": "top", "values": [0], "labels": false, "title": null}}, "y": {"field": "val", "type": "quantitative", "axis": {"orient": "right", "values": [2, 4, 6, 8], "labels": false, "title": null}}}},
   {"transform": [{"filter": "datum.kind == 'dashed'"}], "mark": {"type": "line", "strokeWidth": 1.2, "strokeDash": [6, 4], "color": "black", "clip": true, "interpolate": "monotone"},
    "encoding": {"x": {"field": "cos", "type": "quantitative", "axis": null}, "y": {"field": "val", "type": "quantitative", "axis": null}}},
   {"transform": [{"filter": "datum.kind == 'label'"}], "mark": {"type": "text", "font": "Roboto", "fontSize": 30, "fontWeight": 300, "lineHeight": 36, "baseline": "middle", "align": "center", "color": "black"},
    "encoding": {"x": {"datum": 0, "type": "quantitative", "axis": null}, "y": {"datum": 9.24, "type": "quantitative", "axis": null}, "text": {"field": "text"}}}
  ],
  "resolve": {"axis": {"x": "independent", "y": "independent"}}},
 {"width": 244, "height": 488, "data": {"name": "d"}, "transform": [{"filter": "datum.panel == 'p2'"}],
  "layer": [
   {"transform": [{"filter": "datum.kind == 'pt'"}], "mark": {"type": "rule", "strokeWidth": 1.5, "color": "black"},
    "encoding": {"x": {"field": "cos", "type": "quantitative", "scale": {"domain": [-1, 1], "reverse": true, "nice": false, "zero": false}, "axis": {"orient": "bottom", "values": [1, 0, -1], "labels": false, "title": null}},
     "y": {"field": "lo", "type": "quantitative", "scale": {"domain": [0, 10], "nice": false, "zero": false}, "axis": {"orient": "left", "values": [0, 2, 4, 6, 8, 10], "labels": false, "title": null}},
     "y2": {"field": "hi"}}},
   {"transform": [{"filter": "datum.kind == 'pt'"}], "mark": {"type": "circle", "size": 40, "color": "black", "opacity": 1},
    "encoding": {"x": {"field": "cos", "type": "quantitative", "axis": null}, "y": {"field": "val", "type": "quantitative", "axis": null}}},
   {"transform": [{"filter": "datum.kind == 'solid'"}], "mark": {"type": "line", "strokeWidth": 2.8, "color": "black", "clip": true, "interpolate": "monotone"},
    "encoding": {"x": {"field": "cos", "type": "quantitative", "axis": {"orient": "top", "values": [0], "labels": false, "title": null}}, "y": {"field": "val", "type": "quantitative", "axis": {"orient": "right", "values": [2, 4, 6, 8], "labels": false, "title": null}}}},
   {"transform": [{"filter": "datum.kind == 'dashed'"}], "mark": {"type": "line", "strokeWidth": 1.2, "strokeDash": [6, 4], "color": "black", "clip": true, "interpolate": "monotone"},
    "encoding": {"x": {"field": "cos", "type": "quantitative", "axis": null}, "y": {"field": "val", "type": "quantitative", "axis": null}}},
   {"transform": [{"filter": "datum.kind == 'label'"}], "mark": {"type": "text", "font": "Roboto", "fontSize": 30, "fontWeight": 300, "lineHeight": 36, "baseline": "middle", "align": "center", "color": "black"},
    "encoding": {"x": {"datum": 0, "type": "quantitative", "axis": null}, "y": {"datum": 9.24, "type": "quantitative", "axis": null}, "text": {"field": "text"}}}
  ],
  "resolve": {"axis": {"x": "independent", "y": "independent"}}},
 {"width": 244, "height": 488, "data": {"name": "d"}, "transform": [{"filter": "datum.panel == 'p3'"}],
  "layer": [
   {"transform": [{"filter": "datum.kind == 'pt'"}], "mark": {"type": "rule", "strokeWidth": 1.5, "color": "black"},
    "encoding": {"x": {"field": "cos", "type": "quantitative", "scale": {"domain": [-1, 1], "reverse": true, "nice": false, "zero": false}, "axis": {"orient": "bottom", "values": [1, 0, -1], "labels": false, "title": null}},
     "y": {"field": "lo", "type": "quantitative", "scale": {"domain": [0, 10], "nice": false, "zero": false}, "axis": {"orient": "left", "values": [0, 2, 4, 6, 8, 10], "labels": true, "labelOffset": {"condition": {"test": "datum.value == 10", "value": 10}, "value": 0}, "title": "dσ/dΩ (mb/ster)", "titleX": -97, "titleY": 240, "titleAngle": 270, "titleAlign": "center", "titleBaseline": "middle", "titleFontSize": 24}},
     "y2": {"field": "hi"}}},
   {"transform": [{"filter": "datum.kind == 'pt'"}], "mark": {"type": "circle", "size": 40, "color": "black", "opacity": 1},
    "encoding": {"x": {"field": "cos", "type": "quantitative", "axis": null}, "y": {"field": "val", "type": "quantitative", "axis": null}}},
   {"transform": [{"filter": "datum.kind == 'solid'"}], "mark": {"type": "line", "strokeWidth": 2.8, "color": "black", "clip": true, "interpolate": "monotone"},
    "encoding": {"x": {"field": "cos", "type": "quantitative", "axis": {"orient": "top", "values": [0], "labels": false, "title": null}}, "y": {"field": "val", "type": "quantitative", "axis": {"orient": "right", "values": [2, 4, 6, 8], "labels": false, "title": null}}}},
   {"transform": [{"filter": "datum.kind == 'dashed'"}], "mark": {"type": "line", "strokeWidth": 1.2, "strokeDash": [6, 4], "color": "black", "clip": true, "interpolate": "monotone"},
    "encoding": {"x": {"field": "cos", "type": "quantitative", "axis": null}, "y": {"field": "val", "type": "quantitative", "axis": null}}},
   {"transform": [{"filter": "datum.kind == 'label'"}], "mark": {"type": "text", "font": "Roboto", "fontSize": 30, "fontWeight": 300, "lineHeight": 36, "baseline": "middle", "align": "center", "color": "black"},
    "encoding": {"x": {"datum": 0, "type": "quantitative", "axis": null}, "y": {"datum": 9.24, "type": "quantitative", "axis": null}, "text": {"field": "text"}}}
  ],
  "resolve": {"axis": {"x": "independent", "y": "independent"}}},
 {"width": 244, "height": 488, "data": {"name": "d"}, "transform": [{"filter": "datum.panel == 'p4'"}],
  "layer": [
   {"transform": [{"filter": "datum.kind == 'pt'"}], "mark": {"type": "rule", "strokeWidth": 1.5, "color": "black"},
    "encoding": {"x": {"field": "cos", "type": "quantitative", "scale": {"domain": [-1, 1], "reverse": true, "nice": false, "zero": false}, "axis": {"orient": "bottom", "values": [1, 0, -1], "labels": false, "title": null}},
     "y": {"field": "lo", "type": "quantitative", "scale": {"domain": [0, 10], "nice": false, "zero": false}, "axis": {"orient": "left", "values": [0, 2, 4, 6, 8, 10], "labels": false, "title": null}},
     "y2": {"field": "hi"}}},
   {"transform": [{"filter": "datum.kind == 'pt'"}], "mark": {"type": "circle", "size": 40, "color": "black", "opacity": 1},
    "encoding": {"x": {"field": "cos", "type": "quantitative", "axis": null}, "y": {"field": "val", "type": "quantitative", "axis": null}}},
   {"transform": [{"filter": "datum.kind == 'solid'"}], "mark": {"type": "line", "strokeWidth": 2.8, "color": "black", "clip": true, "interpolate": "monotone"},
    "encoding": {"x": {"field": "cos", "type": "quantitative", "axis": {"orient": "top", "values": [0], "labels": false, "title": null}}, "y": {"field": "val", "type": "quantitative", "axis": {"orient": "right", "values": [2, 4, 6, 8], "labels": false, "title": null}}}},
   {"transform": [{"filter": "datum.kind == 'dashed'"}], "mark": {"type": "line", "strokeWidth": 1.2, "strokeDash": [6, 4], "color": "black", "clip": true, "interpolate": "monotone"},
    "encoding": {"x": {"field": "cos", "type": "quantitative", "axis": null}, "y": {"field": "val", "type": "quantitative", "axis": null}}},
   {"transform": [{"filter": "datum.kind == 'label'"}], "mark": {"type": "text", "font": "Roboto", "fontSize": 30, "fontWeight": 300, "lineHeight": 36, "baseline": "middle", "align": "center", "color": "black"},
    "encoding": {"x": {"datum": 0, "type": "quantitative", "axis": null}, "y": {"datum": 9.24, "type": "quantitative", "axis": null}, "text": {"field": "text"}}}
  ],
  "resolve": {"axis": {"x": "independent", "y": "independent"}}},
 {"width": 244, "height": 488, "data": {"name": "d"}, "transform": [{"filter": "datum.panel == 'p5'"}],
  "layer": [
   {"transform": [{"filter": "datum.kind == 'pt'"}], "mark": {"type": "rule", "strokeWidth": 1.5, "color": "black"},
    "encoding": {"x": {"field": "cos", "type": "quantitative", "scale": {"domain": [-1, 1], "reverse": true, "nice": false, "zero": false}, "axis": {"orient": "bottom", "values": [1, 0, -1], "labels": true, "labelExpr": "datum.value == 1 ? '1.0' : datum.value == -1 ? '-1.0' : '0'", "title": "cos θ (π⁻out, π⁻inc)", "titleX": 268, "titleY": 95, "titleAlign": "center", "titleBaseline": "middle", "titleFontSize": 28}},
     "y": {"field": "lo", "type": "quantitative", "scale": {"domain": [0, 10], "nice": false, "zero": false}, "axis": {"orient": "left", "values": [0, 2, 4, 6, 8, 10], "labels": true, "labelOffset": {"condition": {"test": "datum.value == 10", "value": 10}, "value": 0}, "title": null}},
     "y2": {"field": "hi"}}},
   {"transform": [{"filter": "datum.kind == 'pt'"}], "mark": {"type": "circle", "size": 40, "color": "black", "opacity": 1},
    "encoding": {"x": {"field": "cos", "type": "quantitative", "axis": null}, "y": {"field": "val", "type": "quantitative", "axis": null}}},
   {"transform": [{"filter": "datum.kind == 'solid'"}], "mark": {"type": "line", "strokeWidth": 2.8, "color": "black", "clip": true, "interpolate": "monotone"},
    "encoding": {"x": {"field": "cos", "type": "quantitative", "axis": {"orient": "top", "values": [0], "labels": false, "title": null}}, "y": {"field": "val", "type": "quantitative", "axis": {"orient": "right", "values": [2, 4, 6, 8], "labels": false, "title": null}}}},
   {"transform": [{"filter": "datum.kind == 'dashed'"}], "mark": {"type": "line", "strokeWidth": 1.2, "strokeDash": [6, 4], "color": "black", "clip": true, "interpolate": "monotone"},
    "encoding": {"x": {"field": "cos", "type": "quantitative", "axis": null}, "y": {"field": "val", "type": "quantitative", "axis": null}}},
   {"transform": [{"filter": "datum.kind == 'label'"}], "mark": {"type": "text", "font": "Roboto", "fontSize": 30, "fontWeight": 300, "lineHeight": 36, "baseline": "middle", "align": "center", "color": "black"},
    "encoding": {"x": {"datum": 0, "type": "quantitative", "axis": null}, "y": {"datum": 9.24, "type": "quantitative", "axis": null}, "text": {"field": "text"}}}
  ],
  "resolve": {"axis": {"x": "independent", "y": "independent"}}},
 {"width": 244, "height": 488, "data": {"name": "d"}, "transform": [{"filter": "datum.panel == 'p6'"}],
  "layer": [
   {"transform": [{"filter": "datum.kind == 'pt'"}], "mark": {"type": "rule", "strokeWidth": 1.5, "color": "black"},
    "encoding": {"x": {"field": "cos", "type": "quantitative", "scale": {"domain": [-1, 1], "reverse": true, "nice": false, "zero": false}, "axis": {"orient": "bottom", "values": [1, 0, -1], "labels": true, "labelExpr": "datum.value == 1 ? '1.0' : datum.value == -1 ? '-1.0' : '0'", "title": null}},
     "y": {"field": "lo", "type": "quantitative", "scale": {"domain": [0, 10], "nice": false, "zero": false}, "axis": {"orient": "left", "values": [0, 2, 4, 6, 8, 10], "labels": false, "title": null}},
     "y2": {"field": "hi"}}},
   {"transform": [{"filter": "datum.kind == 'pt'"}], "mark": {"type": "circle", "size": 40, "color": "black", "opacity": 1},
    "encoding": {"x": {"field": "cos", "type": "quantitative", "axis": null}, "y": {"field": "val", "type": "quantitative", "axis": null}}},
   {"transform": [{"filter": "datum.kind == 'solid'"}], "mark": {"type": "line", "strokeWidth": 2.8, "color": "black", "clip": true, "interpolate": "monotone"},
    "encoding": {"x": {"field": "cos", "type": "quantitative", "axis": {"orient": "top", "values": [0], "labels": false, "title": null}}, "y": {"field": "val", "type": "quantitative", "axis": {"orient": "right", "values": [2, 4, 6, 8], "labels": false, "title": null}}}},
   {"transform": [{"filter": "datum.kind == 'dashed'"}], "mark": {"type": "line", "strokeWidth": 1.2, "strokeDash": [6, 4], "color": "black", "clip": true, "interpolate": "monotone"},
    "encoding": {"x": {"field": "cos", "type": "quantitative", "axis": null}, "y": {"field": "val", "type": "quantitative", "axis": null}}},
   {"transform": [{"filter": "datum.kind == 'label'"}], "mark": {"type": "text", "font": "Roboto", "fontSize": 30, "fontWeight": 300, "lineHeight": 36, "baseline": "middle", "align": "center", "color": "black"},
    "encoding": {"x": {"datum": 0, "type": "quantitative", "axis": null}, "y": {"datum": 9.24, "type": "quantitative", "axis": null}, "text": {"field": "text"}}},
   {"transform": [{"filter": "datum.kind == 'code'"}], "mark": {"type": "text", "font": "DejaVu Sans", "fontSize": 12, "fontWeight": "bold", "baseline": "middle", "align": "center", "color": "black"},
    "encoding": {"x": {"datum": -1.05, "type": "quantitative", "axis": null}, "y": {"datum": -2.05, "type": "quantitative", "axis": null}, "text": {"field": "text"}}}
  ],
  "resolve": {"axis": {"x": "independent", "y": "independent"}}}
]
}
